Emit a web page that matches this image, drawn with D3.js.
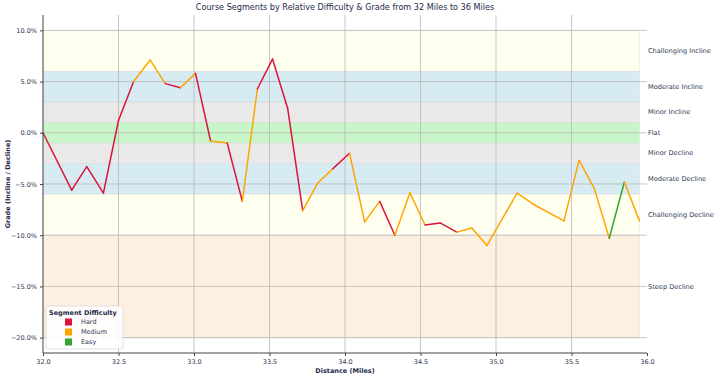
<!DOCTYPE html>
<html>
<head>
<meta charset="utf-8">
<script src="https://cdn.jsdelivr.net/npm/d3@7"></script>
<style>
  body { margin: 0; background: #fff; }
  svg { font-family: "DejaVu Sans", sans-serif; }
</style>
</head>
<body>
<div id="container"></div>
<script>
const width = 720,
  height = 378,
  margin = { top: 15, right: 73, bottom: 25, left: 43 };

/* DATA */
const distance = [32.00, 32.19, 32.29, 32.40, 32.50, 32.60, 32.71, 32.81, 32.91, 33.01,
  33.11, 33.22, 33.32, 33.42, 33.52, 33.62, 33.72, 33.82, 33.92, 34.03,
  34.13, 34.23, 34.33, 34.43, 34.53, 34.63, 34.74, 34.84, 34.94, 35.14,
  35.25, 35.45, 35.55, 35.65, 35.75, 35.85, 35.95];
const grade = [0.0, -5.6, -3.3, -5.9, 1.2, 5.0, 7.1, 4.8, 4.4, 5.8,
  -0.8, -1.0, -6.7, 4.3, 7.2, 2.4, -7.6, -4.9, -3.5, -2.0,
  -8.7, -6.7, -10.0, -5.85, -9.0, -8.8, -9.7, -9.3, -11.0, -5.9,
  -7.0, -8.6, -2.7, -5.4, -10.3, -4.8, -8.6];
// difficulty of the segment ending at each point (first entry unused)
const difficulty = ["Hard", "Hard", "Hard", "Hard", "Hard", "Hard", "Medium", "Medium", "Hard", "Medium",
  "Hard", "Medium", "Hard", "Medium", "Hard", "Hard", "Hard", "Medium", "Medium", "Hard",
  "Medium", "Medium", "Hard", "Medium", "Medium", "Hard", "Hard", "Medium", "Medium", "Medium",
  "Medium", "Medium", "Medium", "Medium", "Medium", "Easy", "Medium"];

const difficultyLevels = ["Hard", "Medium", "Easy"];
const difficultyColors = ["#dc143c", "#ffa500", "#33a532"];

const bandNames = ["Challenging Incline", "Moderate Incline", "Minor Incline", "Flat",
  "Minor Decline", "Moderate Decline", "Challenging Decline", "Steep Decline"];
const bandLow = [6, 3, 1, -1, -3, -6, -10, -20];
const bandHigh = [10, 6, 3, 1, -1, -3, -6, -10];
const bandColors = ["#fffff0", "#d6ebf2", "#e9e9e9", "#c8f6c8", "#e9e9e9", "#d6ebf2", "#fffff0", "#fdf0e1"];

const xTicks = [32.0, 32.5, 33.0, 33.5, 34.0, 34.5, 35.0, 35.5, 36.0];
const yTicks = [10, 5, 0, -5, -10, -15, -20];

const points = distance.map((d, i) => ({ distance: d, grade: grade[i], difficulty: difficulty[i] }));
const bands = bandNames.map((n, i) => ({ name: n, low: bandLow[i], high: bandHigh[i], color: bandColors[i] }));

/* SCALES */
const xScale = d3.scaleLinear()
  .domain([32, 36])
  .range([margin.left, width - margin.right]);

const yScale = d3.scaleLinear()
  .domain([-21.5, 11.5])
  .range([height - margin.bottom, margin.top]);

const color = d3.scaleOrdinal()
  .domain(difficultyLevels)
  .range(difficultyColors);

const svg = d3.select("#container").append("svg")
  .attr("width", width)
  .attr("height", height);

const textColor = "#2b3953";

/* BANDS */
const lastX = d3.max(distance);
svg.selectAll("rect.band")
  .data(bands)
  .join("rect")
  .attr("class", "band")
  .attr("x", xScale(32))
  .attr("width", xScale(lastX) - xScale(32))
  .attr("y", d => yScale(d.high))
  .attr("height", d => yScale(d.low) - yScale(d.high))
  .attr("fill", d => d.color)
  .attr("stroke", "#c8ccd0")
  .attr("stroke-opacity", 0.35)
  .attr("stroke-width", 0.8);

/* GRID */
svg.append("g")
  .attr("class", "x-grid")
  .selectAll("line")
  .data(xTicks.slice(1, -1))
  .join("line")
  .attr("x1", d => xScale(d))
  .attr("x2", d => xScale(d))
  .attr("y1", margin.top)
  .attr("y2", height - margin.bottom)
  .attr("stroke", "#b8b8b8")
  .attr("stroke-opacity", 0.8)
  .attr("stroke-width", 1);

svg.append("g")
  .attr("class", "y-grid")
  .selectAll("line")
  .data(yTicks)
  .join("line")
  .attr("x1", margin.left)
  .attr("x2", width - margin.right)
  .attr("y1", d => yScale(d))
  .attr("y2", d => yScale(d))
  .attr("stroke", "#b8b8b8")
  .attr("stroke-opacity", 0.8)
  .attr("stroke-width", 1);

/* LINE SEGMENTS */
const segments = points.slice(1).map((p, i) => ({ a: points[i], b: p, difficulty: p.difficulty }));
svg.append("g")
  .selectAll("line")
  .data(segments)
  .join("line")
  .attr("x1", d => xScale(d.a.distance))
  .attr("y1", d => yScale(d.a.grade))
  .attr("x2", d => xScale(d.b.distance))
  .attr("y2", d => yScale(d.b.grade))
  .attr("stroke", d => color(d.difficulty))
  .attr("stroke-width", 1.5)
  .attr("stroke-linecap", "round");

/* AXES */
const xAxis = d3.axisBottom(xScale)
  .tickValues(xTicks)
  .tickFormat(d3.format(".1f"))
  .tickSize(3);

const yAxis = d3.axisLeft(yScale)
  .tickValues(yTicks)
  .tickFormat(d => d3.format(".1f")(d) + "%")
  .tickSize(3);

const gx = svg.append("g")
  .attr("class", "x-axis")
  .attr("transform", `translate(0,${height - margin.bottom})`)
  .call(xAxis);
gx.select(".domain").attr("d", `M${margin.left},0H${width - margin.right}`);

const gy = svg.append("g")
  .attr("class", "y-axis")
  .attr("transform", `translate(${margin.left},0)`)
  .call(yAxis);
gy.select(".domain").attr("d", `M0,${margin.top}V${height - margin.bottom}`);

svg.selectAll(".x-axis, .y-axis")
  .attr("font-family", "DejaVu Sans, sans-serif")
  .attr("font-size", 6.5);
svg.selectAll(".domain").attr("stroke", "#444").attr("stroke-width", 1);
svg.selectAll(".tick line").attr("stroke", "#444");
svg.selectAll(".tick text").attr("fill", textColor);

/* RIGHT LABELS */
svg.selectAll("text.bandLabel")
  .data(bands)
  .join("text")
  .attr("class", "bandLabel")
  .attr("x", width - margin.right + 1)
  .attr("y", d => yScale((d.low + d.high) / 2))
  .attr("dy", "0.32em")
  .attr("font-size", 6.6)
  .attr("fill", textColor)
  .text(d => d.name);

/* TITLES */
svg.append("text")
  .attr("x", (margin.left + width - margin.right) / 2)
  .attr("y", 10)
  .attr("text-anchor", "middle")
  .attr("font-size", 8.1)
  .attr("fill", "#1c2a48")
  .text("Course Segments by Relative Difficulty & Grade from 32 Miles to 36 Miles");

svg.append("text")
  .attr("x", (margin.left + width - margin.right) / 2)
  .attr("y", height - 5)
  .attr("text-anchor", "middle")
  .attr("font-size", 6.5)
  .attr("font-weight", "bold")
  .attr("fill", "#1c2a48")
  .text("Distance (Miles)");

svg.append("text")
  .attr("transform", "rotate(-90)")
  .attr("x", -(margin.top + height - margin.bottom) / 2)
  .attr("y", 10)
  .attr("text-anchor", "middle")
  .attr("font-size", 6.5)
  .attr("font-weight", "bold")
  .attr("fill", "#1c2a48")
  .text("Grade (Incline / Decline)");

/* LEGEND */
const legend = svg.append("g")
  .attr("transform", `translate(${margin.left + 3},306)`);

legend.append("rect")
  .attr("width", 77)
  .attr("height", 43)
  .attr("rx", 2)
  .attr("fill", "#fff")
  .attr("fill-opacity", 0.85)
  .attr("stroke", "#d8d8d8")
  .attr("stroke-width", 0.8);

legend.append("text")
  .attr("x", 3)
  .attr("y", 8.5)
  .attr("font-size", 6.5)
  .attr("font-weight", "bold")
  .attr("fill", "#1c2a48")
  .text("Segment Difficulty");

const entry = legend.selectAll("g.entry")
  .data(difficultyLevels)
  .join("g")
  .attr("class", "entry")
  .attr("transform", (d, i) => `translate(0,${16 + i * 10})`);

entry.append("rect")
  .attr("x", 19)
  .attr("y", -3.5)
  .attr("width", 7)
  .attr("height", 7)
  .attr("fill", d => color(d));

entry.append("text")
  .attr("x", 35)
  .attr("y", 0)
  .attr("dy", "0.35em")
  .attr("font-size", 6.5)
  .attr("fill", textColor)
  .text(d => d);
</script>
</body>
</html>
